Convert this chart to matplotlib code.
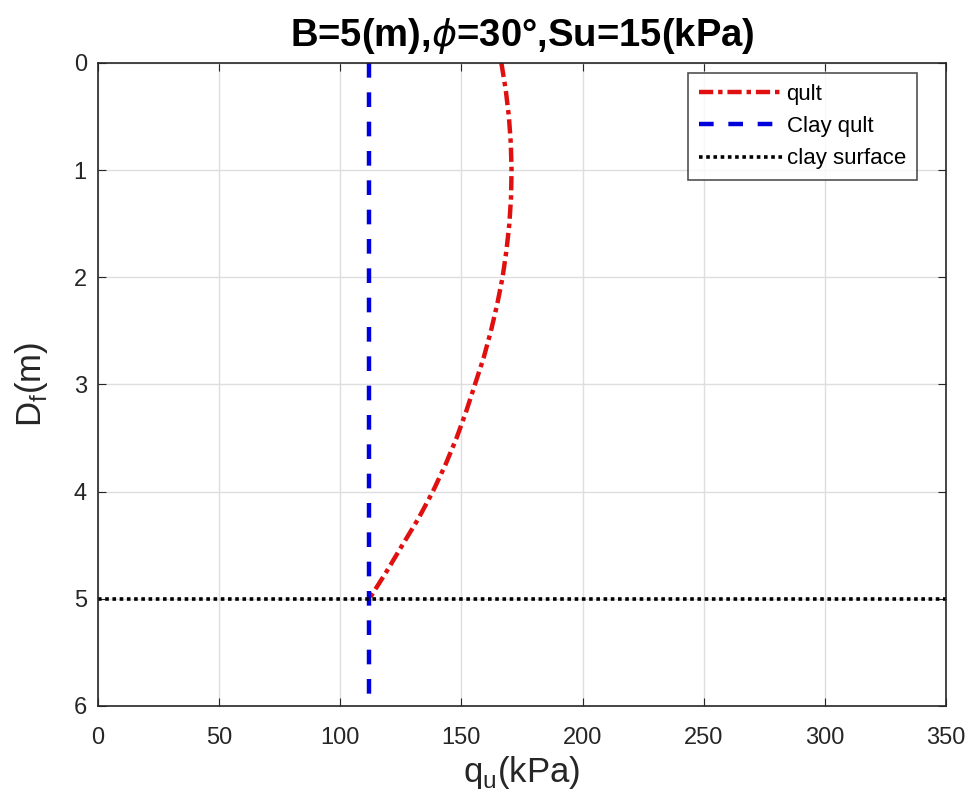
import matplotlib
matplotlib.use("Agg")
import matplotlib.pyplot as plt

plt.rcParams['font.family'] = ['Liberation Sans', 'DejaVu Sans']

# Data
depth = [0, 0.25, 0.5, 0.75, 1.0, 1.25, 1.5, 1.75, 2.0, 2.25, 2.5,
         2.75, 3.0, 3.25, 3.5, 3.75, 4.0, 4.25, 4.5, 4.75, 5.0]
qult = [166.5, 168.3, 169.6, 170.4, 170.7, 170.5, 169.8, 168.6, 167.0, 164.8, 162.2,
        159.2, 155.6, 152.0, 148.0, 143.4, 138.2, 132.3, 125.6, 119.0, 112.0]
clay_qult = 112
clay_surface = 5
xticks = [0, 50, 100, 150, 200, 250, 300, 350]
yticks = [0, 1, 2, 3, 4, 5, 6]

fig = plt.figure(figsize=(9.71, 8.07), dpi=100)
ax = fig.add_axes([0.1009, 0.1252, 0.8733, 0.7968])

ax.plot(qult, depth, color='#e01010', linestyle='-.', linewidth=3.2,
        dashes=(3.2, 1.1, 1.0, 1.1), label='qult')
ax.plot([clay_qult, clay_qult], [0, 6], color='#0000dd', linestyle='--', linewidth=3.2,
        dashes=(3.3, 3.3), label='Clay qult')
ax.plot([0, 350], [clay_surface, clay_surface], color='black', linestyle=':', linewidth=2.6,
        dashes=(1, 1), label='clay surface')

ax.set_xlim(0, 350)
ax.set_ylim(6, 0)
ax.set_xticks(xticks)
ax.set_yticks(yticks)
ax.tick_params(direction='in', top=True, right=True, labelsize=17, colors='#262626',
               length=6)
ax.tick_params(axis='x', pad=15)
ax.tick_params(axis='y', pad=8)
ax.grid(True, color='#dedede', linewidth=1)
ax.set_axisbelow(True)
for s in ax.spines.values():
    s.set_color('#262626')
    s.set_linewidth(1.2)

ax.set_title(r'B=5(m),$\phi$=30°,Su=15(kPa)', fontsize=27.5, fontweight='bold', pad=12)
ax.set_xlabel(r'q$_\mathregular{u}$(kPa)', fontsize=25, color='#262626', labelpad=4)
ax.set_ylabel(r'D$_\mathregular{f}$(m)', fontsize=25, color='#262626', labelpad=17)

leg = ax.legend(loc='upper right', bbox_to_anchor=(0.9658, 0.9844), fontsize=16,
                handlelength=3.8, frameon=True, fancybox=False, borderpad=0.5,
                labelspacing=0.5, handletextpad=0.15, borderaxespad=0)
leg.get_frame().set_edgecolor('#262626')
leg.get_frame().set_linewidth(1.2)

fig.savefig('out.png', dpi=100)
